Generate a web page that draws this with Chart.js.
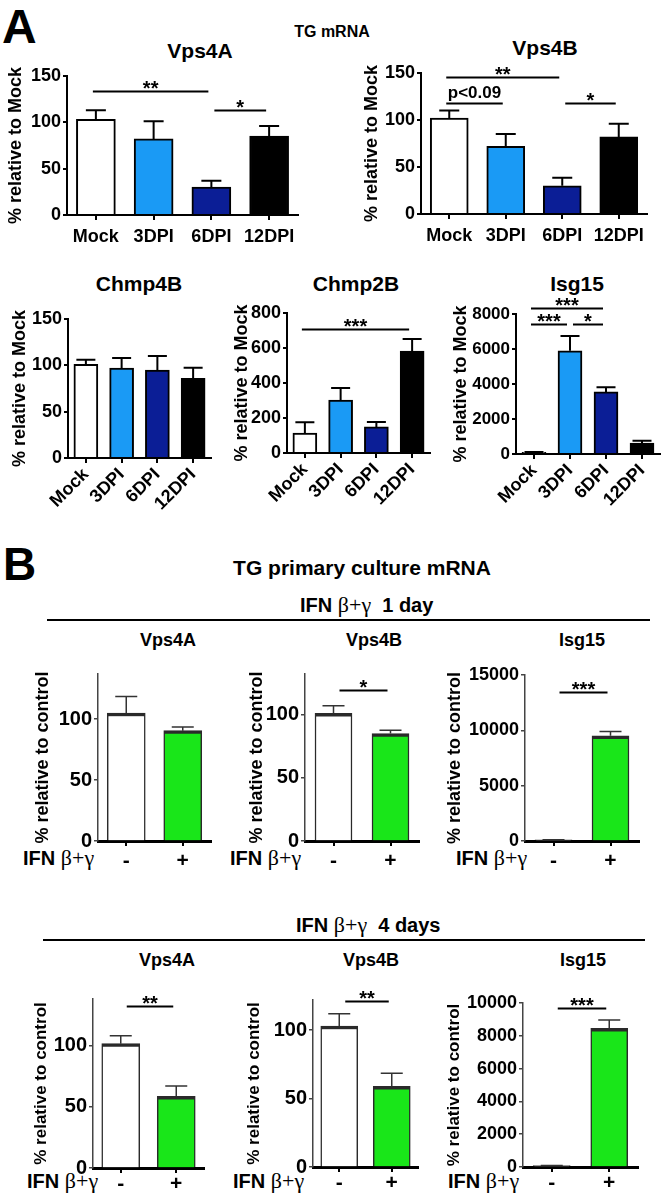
<!DOCTYPE html>
<html>
<head>
<meta charset="utf-8">
<script src="https://cdn.jsdelivr.net/npm/chart.js@4.4.1/dist/chart.umd.min.js"></script>
<style>
  body { margin: 0; background: #fff; }
  #fig { position: relative; width: 666px; height: 1200px; overflow: hidden;
         font-family: "Liberation Sans", Arial, sans-serif; font-weight: bold; color: #000; }
  #fig canvas { position: absolute; }
  .t { position: absolute; white-space: nowrap; line-height: 1; transform: translate(-50%, -50%); }
  .l { position: absolute; white-space: nowrap; line-height: 1; transform: translateY(-50%); }
  .g { font-family: "Liberation Serif", "Times New Roman", serif; font-weight: normal; }
  .rule { position: absolute; height: 2px; background: #000; }
</style>
</head>
<body>
<div id="fig">
  <div class="l" style="left:2px;top:27px;font-size:48px">A</div>
  <div class="t" style="left:332px;top:32px;font-size:16px">TG mRNA</div>
  <div class="t" style="left:200px;top:50px;font-size:21px">Vps4A</div>
  <div class="t" style="left:545px;top:47px;font-size:21px">Vps4B</div>
  <div class="t" style="left:139px;top:283px;font-size:21px">Chmp4B</div>
  <div class="t" style="left:356px;top:283px;font-size:21px">Chmp2B</div>
  <div class="t" style="left:577px;top:283px;font-size:21px">Isg15</div>

  <div class="l" style="left:3px;top:564px;font-size:46px">B</div>
  <div class="t" style="left:362px;top:567px;font-size:21px">TG primary culture mRNA</div>
  <div class="l" style="left:300px;top:605px;font-size:20px">IFN <span class="g" style="font-size:22px">β+γ</span>&nbsp; 1 day</div>
  <div class="rule" style="left:47px;top:619px;width:603px"></div>
  <div class="t" style="left:168px;top:640px;font-size:18px">Vps4A</div>
  <div class="t" style="left:374px;top:640px;font-size:18px">Vps4B</div>
  <div class="t" style="left:582px;top:640px;font-size:18px">Isg15</div>
  <div class="l" style="left:23px;top:858px;font-size:20px">IFN <span class="g" style="font-size:22px">β+γ</span></div>
  <div class="l" style="left:230px;top:858px;font-size:20px">IFN <span class="g" style="font-size:22px">β+γ</span></div>
  <div class="l" style="left:456px;top:858px;font-size:20px">IFN <span class="g" style="font-size:22px">β+γ</span></div>

  <div class="l" style="left:296px;top:925px;font-size:20px">IFN <span class="g" style="font-size:22px">β+γ</span>&nbsp; 4 days</div>
  <div class="rule" style="left:43px;top:939px;width:602px"></div>
  <div class="t" style="left:167px;top:960px;font-size:18px">Vps4A</div>
  <div class="t" style="left:371px;top:960px;font-size:18px">Vps4B</div>
  <div class="t" style="left:583px;top:960px;font-size:18px">Isg15</div>
  <div class="l" style="left:27px;top:1181px;font-size:20px">IFN <span class="g" style="font-size:22px">β+γ</span></div>
  <div class="l" style="left:233px;top:1181px;font-size:20px">IFN <span class="g" style="font-size:22px">β+γ</span></div>
  <div class="l" style="left:448px;top:1181px;font-size:20px">IFN <span class="g" style="font-size:22px">β+γ</span></div>
</div>
<script>
const timeCats = ['Mock', '3DPI', '6DPI', '12DPI'];
const ifnCats = ['-', '+'];
const timeColors = ['#ffffff', '#1a9af5', '#0b1e96', '#000000'];
const ifnColors = ['#ffffff', '#19e619'];

// TG mRNA, mean and SEM (% of mock)
const tgVps4A = [103, 82, 30, 85];
const tgVps4AErr = [10, 19, 7, 11];
const tgVps4B = [102, 72, 30, 82];
const tgVps4BErr = [8, 13, 8.5, 14];
const tgChmp4B = [101, 97, 95, 86];
const tgChmp4BErr = [5, 11, 15, 11.5];
const tgChmp2B = [114, 303, 149, 583];
const tgChmp2BErr = [62, 68, 28, 68];
const tgIsg15 = [100, 5900, 3550, 630];
const tgIsg15Err = [20, 850, 270, 130];

// primary culture, IFN 1 day / 4 days (% of control)
const day1Vps4A = [105, 90.5];
const day1Vps4AErr = [13.5, 3];
const day1Vps4B = [101, 85];
const day1Vps4BErr = [6, 2.5];
const day1Isg15 = [100, 9500];
const day1Isg15Err = [20, 400];
const day4Vps4A = [101.5, 58.5];
const day4Vps4AErr = [6.5, 8.5];
const day4Vps4B = [103, 59];
const day4Vps4BErr = [9, 9.5];
const day4Isg15 = [80, 8450];
const day4Isg15Err = [15, 520];

// significance bars: [from, to, height, label]
const tgVps4ASig = [[0, 2, 134, '**'], [2, 3, 113, '*']];
const tgVps4BSig = [[0, 2, 146, '**'], [0, 1, 118, 'p<0.09'], [2, 3, 118, '*']];
const tgChmp2BSig = [[0, 3, 709, '***']];
const tgIsg15Sig = [[0, 2, 8340, '***'], [0, 1, 7430, '***'], [1, 2, 7430, '*']];
const day1Vps4BSig = [[0, 1, 119.5, '*']];
const day1Isg15Sig = [[0, 1, 13500, '***']];
const day4Vps4ASig = [[0, 1, 132, '**']];
const day4Vps4BSig = [[0, 1, 121, '**']];
const day4Isg15Sig = [[0, 1, 9700, '***']];

const FONT = '"Liberation Sans", Arial, sans-serif';
Chart.defaults.font.family = FONT;
Chart.defaults.color = '#000';

// error bars + significance lines
const marks = {
  id: 'marks',
  afterDatasetsDraw(chart, args, o) {
    const ctx = chart.ctx, x = chart.scales.x, y = chart.scales.y;
    const bars = chart.getDatasetMeta(0).data;
    ctx.save();
    ctx.strokeStyle = o.color;
    ctx.lineWidth = o.width;
    o.err.forEach((e, i) => {
      const cx = bars[i].x;
      const y1 = y.getPixelForValue(o.mean[i] + e);
      ctx.beginPath();
      ctx.moveTo(cx, bars[i].y);
      ctx.lineTo(cx, y1);
      ctx.moveTo(cx - o.cap / 2, y1);
      ctx.lineTo(cx + o.cap / 2, y1);
      ctx.stroke();
    });
    ctx.strokeStyle = '#000';
    ctx.fillStyle = '#000';
    ctx.lineWidth = 2;
    ctx.textAlign = 'center';
    ctx.textBaseline = 'alphabetic';
    o.sig.forEach(([a, b, v, label]) => {
      const x0 = x.getPixelForValue(a) + (a > 0 ? 3 : o.sigStart);
      const x1 = x.getPixelForValue(b) - 3;
      const yy = Math.round(y.getPixelForValue(v)) + 0.5;
      ctx.beginPath();
      ctx.moveTo(x0, yy);
      ctx.lineTo(x1, yy);
      ctx.stroke();
      const stars = /^\*+$/.test(label);
      ctx.font = stars ? 'bold 20px ' + FONT : 'bold 17px ' + FONT;
      ctx.fillText(label, (x0 + x1) / 2, yy + (stars ? 3 : -6));
    });
    ctx.restore();
  }
};

function makeChart(b) {
  const cv = document.createElement('canvas');
  cv.width = b.w;
  cv.height = b.h;
  cv.style.left = b.left + 'px';
  cv.style.top = b.top + 'px';
  document.getElementById('fig').appendChild(cv);
  const thin = b.cats === ifnCats;
  const axisCol = thin ? '#444' : '#000';
  return new Chart(cv, {
    type: 'bar',
    data: {
      labels: b.cats,
      datasets: [{
        data: b.mean,
        backgroundColor: b.colors,
        borderColor: thin ? '#2a2a2a' : '#000',
        borderWidth: thin ? { top: 3.5, left: 1.5, right: 1.5, bottom: 0 } : 2,
        barThickness: b.bar
      }]
    },
    options: {
      responsive: false,
      animation: false,
      devicePixelRatio: 1,
      layout: { padding: { top: b.padTop, right: 5, left: 0, bottom: 0 } },
      plugins: {
        legend: { display: false },
        tooltip: { enabled: false },
        marks: { mean: b.mean, err: b.err, sig: b.sig || [], cap: b.cap,
                 color: thin ? '#333' : '#000', width: thin ? 1.5 : 2, sigStart: thin ? 6 : -3 }
      },
      scales: {
        x: {
          grid: { drawOnChartArea: false, offset: false, tickLength: 5, color: '#000', lineWidth: 2 },
          border: { color: '#000', width: thin ? 3 : 2 },
          ticks: {
            font: { size: thin ? 21 : 18, weight: 'bold' },
            color: '#000',
            padding: b.xpad,
            autoSkip: false,
            minRotation: b.rot || 0,
            maxRotation: b.rot || 0
          },
          afterFit: s => { s.height = b.xh; }
        },
        y: {
          min: 0,
          max: b.max,
          grid: { drawOnChartArea: false, tickLength: 4, color: axisCol, lineWidth: thin ? 1.5 : 2 },
          border: { color: axisCol, width: thin ? 1.5 : 2 },
          ticks: { stepSize: b.step, includeBounds: false, padding: 2, color: '#000',
                   font: { size: b.tickSize || 18, weight: 'bold' },
                   callback: v => String(v) },
          title: { display: true, text: b.ytitle, color: '#000',
                   font: { size: b.titleSize || 18, weight: 'bold' },
                   padding: { top: b.tpad, bottom: 0 } },
          afterFit: s => { s.width = b.yw; }
        }
      }
    },
    plugins: [marks]
  });
}

const mockTitle = '% relative to Mock';
const ctrlTitle = '% relative to control';

// panel A
makeChart({ cats: timeCats, colors: timeColors, mean: tgVps4A, err: tgVps4AErr, sig: tgVps4ASig,
  max: 150, step: 50, ytitle: mockTitle, left: 0, top: 63, w: 303, h: 182, yw: 67, xh: 30,
  padTop: 10, tpad: 5, bar: 39, cap: 20, xpad: 6 });
makeChart({ cats: timeCats, colors: timeColors, mean: tgVps4B, err: tgVps4BErr, sig: tgVps4BSig,
  max: 150, step: 50, ytitle: mockTitle, left: 355, top: 55, w: 297, h: 189, yw: 66, xh: 30,
  padTop: 18, tpad: 6, bar: 38, cap: 20, xpad: 6 });
makeChart({ cats: timeCats, colors: timeColors, mean: tgChmp4B, err: tgChmp4BErr,
  max: 150, step: 50, ytitle: mockTitle, left: 0, top: 305, w: 216, h: 223, yw: 68, xh: 70,
  padTop: 14, tpad: 9, bar: 24, cap: 19, rot: 45, xpad: 1 });
makeChart({ cats: timeCats, colors: timeColors, mean: tgChmp2B, err: tgChmp2BErr, sig: tgChmp2BSig,
  max: 800, step: 200, ytitle: mockTitle, left: 222, top: 299, w: 213, h: 224, yw: 65, xh: 70,
  padTop: 14, tpad: 9, bar: 24, cap: 19, rot: 45, xpad: 1 });
makeChart({ cats: timeCats, colors: timeColors, mean: tgIsg15, err: tgIsg15Err, sig: tgIsg15Sig,
  max: 8000, step: 2000, ytitle: mockTitle, left: 444, top: 290, w: 221, h: 234, yw: 72, xh: 70,
  padTop: 24, tpad: 6, bar: 24, cap: 19, rot: 45, xpad: 1, tickSize: 17 });

// panel B, 1 day
makeChart({ cats: ifnCats, colors: ifnColors, mean: day1Vps4A, err: day1Vps4AErr,
  max: 137, step: 50, ytitle: ctrlTitle, left: 0, top: 660, w: 216, h: 213, yw: 98, xh: 32,
  padTop: 10, tpad: 32, bar: 38, cap: 22, tickSize: 20, xpad: 3 });
makeChart({ cats: ifnCats, colors: ifnColors, mean: day1Vps4B, err: day1Vps4BErr, sig: day1Vps4BSig,
  max: 132, step: 50, ytitle: ctrlTitle, left: 222, top: 660, w: 202, h: 213, yw: 83, xh: 32,
  padTop: 12, tpad: 24, bar: 37, cap: 22, tickSize: 20, xpad: 3 });
makeChart({ cats: ifnCats, colors: ifnColors, mean: day1Isg15, err: day1Isg15Err, sig: day1Isg15Sig,
  max: 15000, step: 5000, ytitle: ctrlTitle, left: 444, top: 660, w: 200, h: 213, yw: 81, xh: 32,
  padTop: 15, tpad: 0, bar: 37, cap: 22, xpad: 3 });

// panel B, 4 days
makeChart({ cats: ifnCats, colors: ifnColors, mean: day4Vps4A, err: day4Vps4AErr, sig: day4Vps4ASig,
  max: 138, step: 50, ytitle: ctrlTitle, left: 0, top: 985, w: 209, h: 215, yw: 93, xh: 32,
  padTop: 11, tpad: 31, bar: 38, cap: 22, tickSize: 20, xpad: -1, titleSize: 17 });
makeChart({ cats: ifnCats, colors: ifnColors, mean: day4Vps4B, err: day4Vps4BErr, sig: day4Vps4BSig,
  max: 122, step: 50, ytitle: ctrlTitle, left: 222, top: 985, w: 201, h: 214, yw: 91, xh: 32,
  padTop: 15, tpad: 22, bar: 37, cap: 22, tickSize: 20, xpad: -1, titleSize: 17 });
makeChart({ cats: ifnCats, colors: ifnColors, mean: day4Isg15, err: day4Isg15Err, sig: day4Isg15Sig,
  max: 10000, step: 2000, ytitle: ctrlTitle, left: 444, top: 985, w: 199, h: 214, yw: 79, xh: 32,
  padTop: 18, tpad: 0, bar: 37, cap: 22, xpad: -1, titleSize: 17 });
</script>
</body>
</html>
